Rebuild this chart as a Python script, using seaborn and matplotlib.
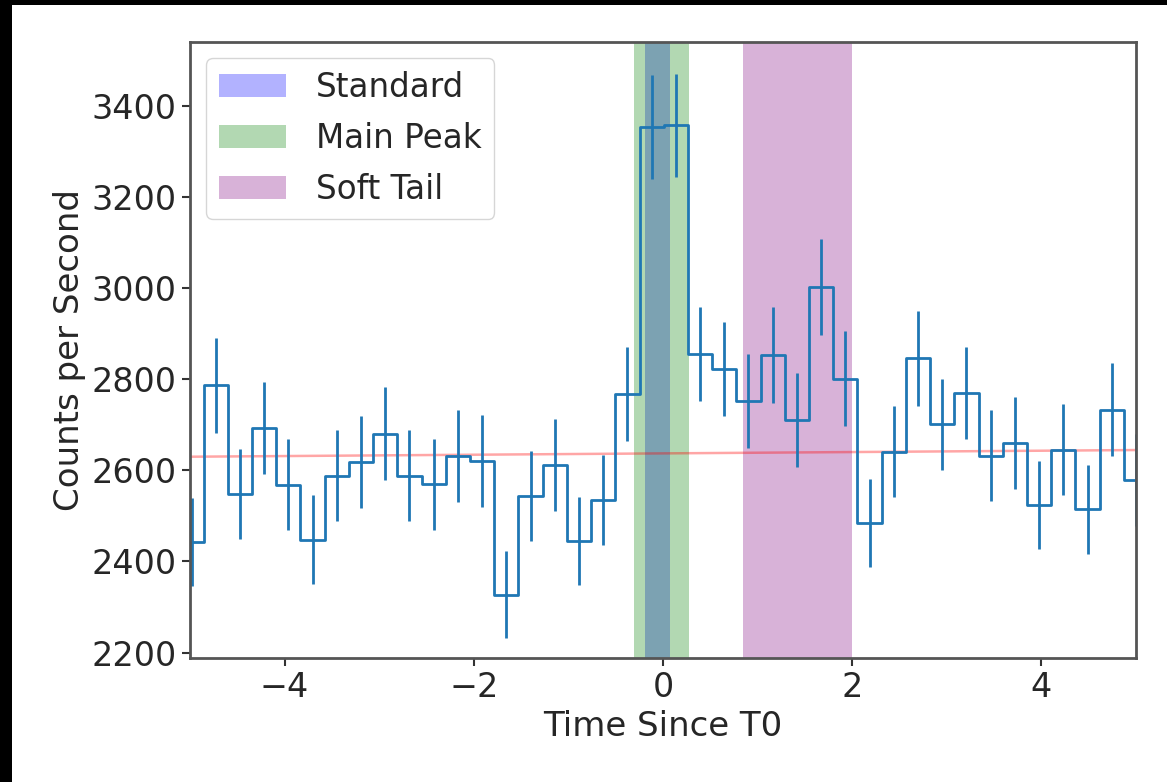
import seaborn as sns
import matplotlib.pyplot as plt
import numpy as np
import pandas as pd

# light curve, 0.256 s bins (bin centres)
time = [-4.984, -4.728, -4.472, -4.216, -3.960, -3.704, -3.448, -3.192, -2.936, -2.680,
        -2.424, -2.168, -1.912, -1.656, -1.400, -1.144, -0.888, -0.632, -0.376, -0.120,
        0.136, 0.392, 0.648, 0.904, 1.160, 1.416, 1.672, 1.928, 2.184, 2.440,
        2.696, 2.952, 3.208, 3.464, 3.720, 3.976, 4.232, 4.488, 4.744, 5.000]
rate = [2443, 2787, 2549, 2694, 2569, 2448, 2588, 2618, 2681, 2588,
        2570, 2632, 2620, 2327, 2544, 2612, 2445, 2535, 2768, 3354,
        3358, 2856, 2823, 2753, 2853, 2711, 3003, 2802, 2485, 2641,
        2846, 2701, 2771, 2632, 2661, 2524, 2646, 2515, 2733, 2579]
rate_err = [97, 104, 99, 101, 99, 97, 100, 101, 102, 100,
            100, 101, 101, 95, 99, 101, 97, 99, 104, 114,
            114, 104, 104, 103, 105, 103, 106, 104, 97, 100,
            105, 101, 101, 100, 101, 97, 100, 98, 102, 100]

# background fit
bkg_time = [-5.112, 5.128]
bkg_rate = [2630, 2645]

# selection intervals
intervals = ['Standard', 'Main Peak', 'Soft Tail']
int_start = [-0.19, -0.31, 0.85]
int_stop = [0.075, 0.27, 2.0]
int_color = ['blue', 'green', 'purple']

df = pd.DataFrame({'time': time, 'rate': rate, 'err': rate_err})

sns.set_style('ticks')
plt.rcParams['font.family'] = ['DejaVu Sans']

fig = plt.figure(figsize=(11.67, 7.82), dpi=100)
fig.patch.set_facecolor('black')
# white page with a thin dark frame on the left / top
fig.add_artist(plt.Rectangle((12 / 1167, 0), 1, 1 - 5 / 782, transform=fig.transFigure,
                             facecolor='white', edgecolor='none', zorder=-5))
ax = fig.add_axes([0.1628, 0.1586, 0.8106, 0.7881])

sns.lineplot(x=bkg_time, y=bkg_rate, ax=ax, color='red', alpha=0.35, lw=1.8)
sns.lineplot(data=df, x='time', y='rate', ax=ax, drawstyle='steps-mid',
             color='#1f77b4', lw=2.0, estimator=None, sort=True)
ax.errorbar(df['time'], df['rate'], yerr=df['err'], fmt='none', ecolor='#1f77b4', elinewidth=2.0)

for name, a, b, c in zip(intervals, int_start, int_stop, int_color):
    ax.axvspan(a, b, color=c, alpha=0.3, lw=0, label=name)

ax.set_xlim(-5, 5)
ax.set_ylim(2188, 3542)
ax.set_xticks([-4, -2, 0, 2, 4])
ax.set_yticks([2200, 2400, 2600, 2800, 3000, 3200, 3400])
ax.set_xlabel('Time Since T0', fontsize=24.5)
ax.set_ylabel('Counts per Second', fontsize=24.5)
ax.tick_params(labelsize=24, length=6, width=1.5, color='#333333')
for s in ax.spines.values():
    s.set_linewidth(2)
    s.set_color('#555555')

ax.legend(loc='upper left', fontsize=23.5, handlelength=2.05, handletextpad=0.9,
          labelspacing=0.55)

fig.savefig('out.png', dpi=100, facecolor=fig.get_facecolor())
plt.close(fig)
